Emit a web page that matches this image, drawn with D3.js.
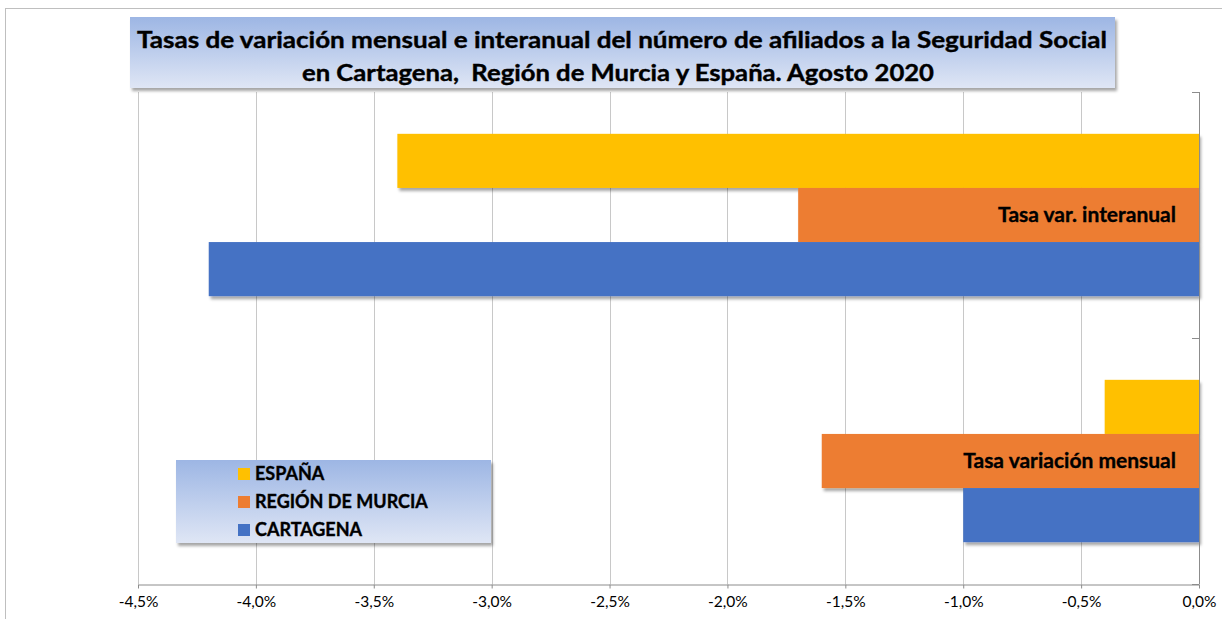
<!DOCTYPE html>
<html><head><meta charset="utf-8">
<script src="https://cdn.jsdelivr.net/npm/d3@7"></script>
<style>body{margin:0;background:#fff}svg{display:block}</style>
</head><body>
<script>
const categories = ["Tasa var. interanual", "Tasa variación mensual"];
const series = ["ESPAÑA", "REGIÓN DE MURCIA", "CARTAGENA"];
const espana = [-3.4, -0.4];
const murcia = [-1.7, -1.6];
const cartagena = [-4.2, -1.0];
const tickValues = [-4.5, -4.0, -3.5, -3.0, -2.5, -2.0, -1.5, -1.0, -0.5, 0.0];
const colors = ["#FFC000", "#ED7D31", "#4472C4"];
const titleLines = ["Tasas de variación mensual e interanual del número de afiliados a la Seguridad Social",
                    "en Cartagena,  Región de Murcia y España. Agosto 2020"];

const values = [espana, murcia, cartagena];
const W = 1222, H = 619;
const FONT = "Lato, 'Open Sans', sans-serif";
const svg = d3.select("body").append("svg").attr("width", W).attr("height", H);
const defs = svg.append("defs");
const sh = defs.append("filter").attr("id", "sh").attr("x", "-5%").attr("y", "-20%").attr("width", "115%").attr("height", "150%");
sh.append("feDropShadow").attr("dx", 2).attr("dy", 3).attr("stdDeviation", 1.6).attr("flood-color", "#000").attr("flood-opacity", 0.35);
const gr = defs.append("linearGradient").attr("id", "gb").attr("x1", 0).attr("y1", 0).attr("x2", 0).attr("y2", 1);
gr.append("stop").attr("offset", "0%").attr("stop-color", "#9db6e4");
gr.append("stop").attr("offset", "100%").attr("stop-color", "#dfe6f5");

// outer border
svg.append("rect").attr("x", 5.5).attr("y", 8.5).attr("width", W).attr("height", H)
  .attr("fill", "none").attr("stroke", "#bfbfbf");

const x = d3.scaleLinear().domain([-4.5, 0]).range([138, 1199]);
const plotTop = 92, plotBottom = 584;
const y = d3.scaleBand().domain(categories).range([plotTop, plotBottom]).paddingInner(0.34).paddingOuter(0.17);
const ys = d3.scaleBand().domain(series).range([0, y.bandwidth()]);

// gridlines
svg.append("g").selectAll("line").data(tickValues).join("line")
  .attr("x1", d => Math.round(x(d)) + 0.5).attr("x2", d => Math.round(x(d)) + 0.5)
  .attr("y1", plotTop).attr("y2", plotBottom)
  .attr("stroke", "#c8c8c8").attr("stroke-width", 1);

// x axis
const xAxis = svg.append("g").attr("transform", `translate(0,${plotBottom + 0.5})`)
  .call(d3.axisBottom(x).tickValues(tickValues).tickSize(4).tickSizeOuter(0)
    .tickFormat(d => d.toFixed(1).replace(".", ",") + "%"));
xAxis.select(".domain").attr("stroke", "#8c8c8c");
xAxis.selectAll(".tick line").attr("stroke", "#8c8c8c");
xAxis.selectAll("text").attr("font-family", FONT).attr("font-size", 15.5)
  .attr("fill", "#000").attr("dy", "1.0em");

// bars
const bars = svg.append("g");
categories.forEach((c, ci) => {
  series.forEach((s, si) => {
    const v = values[si][ci];
    bars.append("rect")
      .attr("x", x(v)).attr("width", x(0) - x(v))
      .attr("y", y(c) + ys(s)).attr("height", ys.bandwidth())
      .attr("fill", colors[si]).attr("filter", "url(#sh)");
  });
});

// right category axis
const ax = svg.append("g");
ax.append("line").attr("x1", x(0) + 0.5).attr("x2", x(0) + 0.5).attr("y1", plotTop).attr("y2", plotBottom).attr("stroke", "#8c8c8c");
const bounds = [plotTop, y(categories[1]) - y.step() * y.paddingInner() / 2, plotBottom];
ax.selectAll(".t").data(bounds).join("line").attr("class", "t")
  .attr("x1", x(0) - 7).attr("x2", x(0)).attr("y1", d => Math.round(d) + 0.5).attr("y2", d => Math.round(d) + 0.5)
  .attr("stroke", "#8c8c8c");

// category labels inside bars
svg.append("g").selectAll("text").data(categories).join("text")
  .attr("x", x(0) - 23).attr("y", c => y(c) + ys(series[1]) + ys.bandwidth() / 2 + 7)
  .attr("text-anchor", "end").attr("font-family", FONT)
  .attr("font-weight", "bold").attr("font-size", 21).attr("fill", "#000")
  .attr("stroke", "#000").attr("stroke-width", 0.35).text(c => c);

// title box
svg.append("rect").attr("x", 130).attr("y", 17).attr("width", 985).attr("height", 71)
  .attr("fill", "url(#gb)").attr("filter", "url(#sh)");
const tt = svg.append("g").attr("font-family", FONT).attr("font-weight", "bold")
  .attr("font-size", 23).attr("fill", "#000").attr("stroke", "#000").attr("stroke-width", 0.4)
  .attr("text-anchor", "middle");
tt.append("text").attr("x", 622).attr("y", 48).attr("textLength", 970).attr("lengthAdjust", "spacingAndGlyphs").text(titleLines[0]);
tt.append("text").attr("x", 618).attr("y", 81).attr("textLength", 632).attr("lengthAdjust", "spacingAndGlyphs")
  .attr("xml:space", "preserve").style("white-space", "pre").text(titleLines[1]);

// legend
svg.append("rect").attr("x", 176).attr("y", 460).attr("width", 315).attr("height", 83)
  .attr("fill", "url(#gb)").attr("filter", "url(#sh)");
const lg = svg.append("g").selectAll("g").data(series).join("g")
  .attr("transform", (d, i) => `translate(238,${468 + i * 28})`);
lg.append("rect").attr("width", 12).attr("height", 12).attr("fill", (d, i) => colors[i]);
lg.append("text").attr("x", 17).attr("y", 12).attr("font-family", FONT)
  .attr("font-weight", "bold").attr("font-size", 18).attr("fill", "#000")
  .attr("stroke", "#000").attr("stroke-width", 0.35).text(d => d);
</script>
</body></html>
